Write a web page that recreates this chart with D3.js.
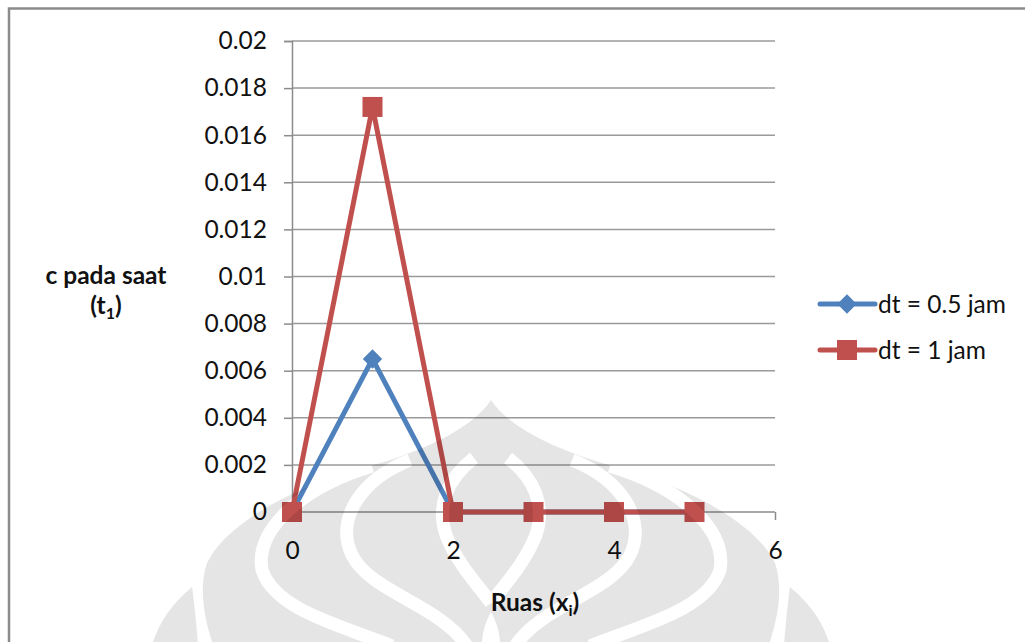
<!DOCTYPE html>
<html>
<head>
<meta charset="utf-8">
<script src="https://cdn.jsdelivr.net/npm/d3@7"></script>
<style>
  html, body { margin: 0; padding: 0; background: #fff; }
  svg { display: block; font-family: Lato, "Open Sans", sans-serif; }
</style>
</head>
<body>
<svg id="chart" width="1025" height="642"></svg>
<script>
// Concentration at time t1 along the segments
const segments = [0, 1, 2, 3, 4, 5];
const seriesNames = ["dt = 0.5 jam", "dt = 1 jam"];
const halfHour = [0, 0.0065, 0, 0, 0, 0];
const oneHour = [0, 0.0172, 0, 0, 0, 0];
const yTicks = [0, 0.002, 0.004, 0.006, 0.008, 0.01, 0.012, 0.014, 0.016, 0.018, 0.02];
const yTickLabels = ["0", "0.002", "0.004", "0.006", "0.008", "0.01", "0.012", "0.014", "0.016", "0.018", "0.02"];
const xTicks = [0, 2, 4, 6];
const xTickLabels = ["0", "2", "4", "6"];
const colors = ["#4f81bd", "#c0504d"];

const svg = d3.select("#chart");
const fontSize = 24.5;

const x = d3.scaleLinear().domain([0, 6]).range([292, 775]);
const y = d3.scaleLinear().domain([0, 0.02]).range([512, 41]);

// outer chart frame
svg.append("rect")
  .attr("x", 9).attr("y", 8.5).attr("width", 1100).attr("height", 700)
  .attr("fill", "#fff").attr("stroke", "#8c8c8c").attr("stroke-width", 2.5);

// horizontal gridlines
svg.append("g")
  .selectAll("line").data(yTicks.slice(1)).join("line")
  .attr("x1", x(0)).attr("x2", x(6))
  .attr("y1", d => y(d)).attr("y2", d => y(d))
  .attr("stroke", "#9a9a9a").attr("stroke-width", 1.5);

// y axis
const yAxis = d3.axisLeft(y).tickValues(yTicks)
  .tickFormat((d, i) => yTickLabels[i]).tickSize(8).tickPadding(17);
const gy = svg.append("g").attr("transform", `translate(${x(0)},0)`).call(yAxis);
gy.select(".domain").attr("stroke", "#8c8c8c").attr("stroke-width", 1.5);
gy.selectAll(".tick line").attr("stroke", "#8c8c8c").attr("stroke-width", 1.5);
gy.selectAll(".tick text").attr("font-size", fontSize).attr("fill", "#111")
  .attr("font-family", "Lato, sans-serif");

// x axis
const xAxis = d3.axisBottom(x).tickValues(xTicks)
  .tickFormat((d, i) => xTickLabels[i]).tickSize(8).tickPadding(22);
const gx = svg.append("g").attr("transform", `translate(0,${y(0)})`).call(xAxis);
gx.select(".domain").attr("stroke", "#8c8c8c").attr("stroke-width", 1.5)
  .attr("d", `M${x(0)},0H${x(6)}`);
gx.selectAll(".tick line").attr("stroke", "#8c8c8c").attr("stroke-width", 1.5);
gx.selectAll(".tick text").attr("font-size", fontSize).attr("fill", "#111")
  .attr("font-family", "Lato, sans-serif");

// series lines and markers
const line = d3.line().x((d, i) => x(segments[i])).y(d => y(d));
const diamond = d3.symbol().type(d3.symbolDiamond2).size(240);

svg.append("path").datum(halfHour)
  .attr("d", line).attr("fill", "none")
  .attr("stroke", colors[0]).attr("stroke-width", 5).attr("stroke-linejoin", "round");
svg.append("g").selectAll("path").data(halfHour).join("path")
  .attr("transform", (d, i) => `translate(${x(segments[i])},${y(d)})`)
  .attr("d", diamond).attr("fill", colors[0]);

svg.append("path").datum(oneHour)
  .attr("d", line).attr("fill", "none")
  .attr("stroke", colors[1]).attr("stroke-width", 5).attr("stroke-linejoin", "round");
svg.append("g").selectAll("rect").data(oneHour).join("rect")
  .attr("x", (d, i) => x(segments[i]) - 10).attr("y", d => y(d) - 10)
  .attr("width", 20).attr("height", 20).attr("fill", colors[1]);

// axis titles
const yTitle = svg.append("text").attr("text-anchor", "middle")
  .attr("font-weight", "bold").attr("font-size", fontSize).attr("fill", "#111");
yTitle.append("tspan").attr("x", 106).attr("y", 284).text("c pada saat");
const t2 = yTitle.append("tspan").attr("x", 106).attr("y", 314);
t2.text("(t");
yTitle.append("tspan").attr("font-size", 16).attr("dy", 5).text("1");
yTitle.append("tspan").attr("dy", -5).text(")");

const xTitle = svg.append("text").attr("text-anchor", "middle")
  .attr("x", 535).attr("y", 611)
  .attr("font-weight", "bold").attr("font-size", fontSize).attr("fill", "#111");
xTitle.append("tspan").text("Ruas (x");
xTitle.append("tspan").attr("font-size", 16).attr("dy", 5).text("i");
xTitle.append("tspan").attr("dy", -5).text(")");

// legend
const legend = svg.append("g");
const legendY = [304, 350];
seriesNames.forEach((name, i) => {
  const g = legend.append("g").attr("transform", `translate(0,${legendY[i]})`);
  g.append("line").attr("x1", 820).attr("x2", 875).attr("y1", 0).attr("y2", 0)
    .attr("stroke", colors[i]).attr("stroke-width", 5).attr("stroke-linecap", "round");
  if (i === 0) {
    g.append("path").attr("transform", "translate(847,0)").attr("d", diamond).attr("fill", colors[i]);
  } else {
    g.append("rect").attr("x", 837).attr("y", -10).attr("width", 20).attr("height", 20).attr("fill", colors[i]);
  }
  g.append("text").attr("x", 878).attr("y", 0).attr("dy", "0.35em")
    .attr("font-size", fontSize).attr("fill", "#111").text(name);
});

// faint lotus emblem across the lower part of the page
const cx = 491;
const mirror = pts => pts.map(p => [2 * cx - p[0], p[1]]);
const defs = svg.append("defs");
const mask = defs.append("mask").attr("id", "emblem-gaps");
mask.append("rect").attr("width", 1025).attr("height", 642).attr("fill", "#fff");
const gapCurves = [
  [[372, 466], [300, 488], [255, 530], [262, 570], [275, 610], [340, 625], [392, 646]],
  [[410, 460], [360, 480], [335, 520], [352, 555], [370, 592], [440, 605], [467, 646]],
  [[474, 458], [448, 478], [436, 505], [446, 535], [458, 565], [478, 585], [491, 603]]
];
const bez = p => `M${p[0]}C${p[1]} ${p[2]} ${p[3]}C${p[4]} ${p[5]} ${p[6]}`;
gapCurves.forEach(c => {
  [c, mirror(c)].forEach(pc => {
    mask.append("path").attr("d", bez(pc)).attr("fill", "none")
      .attr("stroke", "#000").attr("stroke-width", 13);
  });
});
mask.append("path").attr("d", "M491,612C484,625 482,635 482,645L500,645C500,635 498,625 491,612Z").attr("fill", "#000");

const emblem = svg.append("g").attr("mask", "url(#emblem-gaps)")
  .attr("fill", "#000").attr("fill-opacity", 0.1);
emblem.append("path").attr("d",
  "M491,400C475,425 430,450 363,468C290,488 225,525 207,563C198,590 205,620 213,645" +
  "L769,645C777,620 784,590 775,563C757,525 692,488 619,468C552,450 507,425 491,400Z");
emblem.append("path").attr("d", "M192,587C170,605 158,625 152,645L198,645C196,620 194,600 192,587Z");
emblem.append("path").attr("d", `M${2*cx-192},587C${2*cx-170},605 ${2*cx-158},625 ${2*cx-152},645L${2*cx-198},645C${2*cx-196},620 ${2*cx-194},600 ${2*cx-192},587Z`);
</script>
</body>
</html>
